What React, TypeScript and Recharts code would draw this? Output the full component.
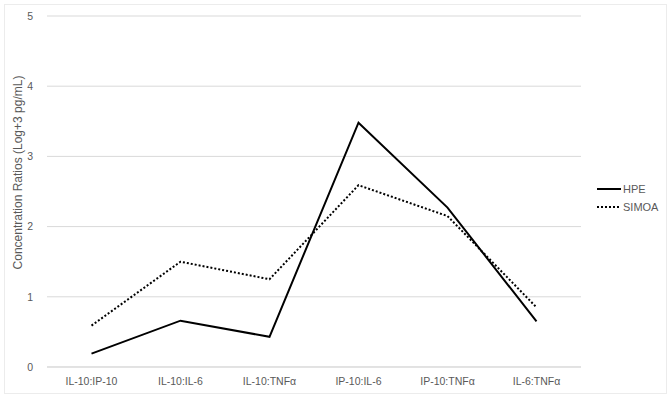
import { LineChart, Line, XAxis, YAxis, CartesianGrid } from 'recharts'

const categories = ['IL-10:IP-10', 'IL-10:IL-6', 'IL-10:TNFα', 'IP-10:IL-6', 'IP-10:TNFα', 'IL-6:TNFα']
const hpe = [0.19, 0.66, 0.43, 3.48, 2.27, 0.65]
const simoa = [0.59, 1.5, 1.25, 2.59, 2.15, 0.85]
const yTicks = [0, 1, 2, 3, 4, 5]

const data = categories.map((c, i) => ({ name: c, HPE: hpe[i], SIMOA: simoa[i] }))

const font = '"Liberation Sans", Arial, sans-serif'
const gray = '#595959'

function App() {
  return (
    <div style={{ position: 'absolute', left: 0, top: 0, width: 671, height: 397, background: '#fff', fontFamily: font }}>
      <div style={{ position: 'absolute', left: 4, top: 4, width: 661, height: 388, border: '1px solid #ececec' }} />
      <LineChart width={671} height={397} data={data} margin={{ top: 16, right: 90, bottom: 0, left: 0 }}>
        <CartesianGrid vertical={false} stroke="#d9d9d9" />
        <XAxis
          dataKey="name"
          tickLine={false}
          axisLine={{ stroke: '#d9d9d9' }}
          height={30}
          padding={{ left: 44.5, right: 44.5 }}
          tick={{ fill: gray, fontSize: 10.5, fontFamily: font }}
          tickMargin={5}
        />
        <YAxis
          width={47}
          domain={[0, 5]}
          ticks={yTicks}
          tickLine={false}
          axisLine={false}
          tick={{ fill: gray, fontSize: 10.5, fontFamily: font }}
          tickMargin={8}
          label={{
            value: 'Concentration Ratios (Log+3 pg/mL)',
            angle: -90,
            position: 'insideLeft',
            dx: 13,
            dy: -19,
            fill: gray,
            fontSize: 12,
            fontFamily: font,
            style: { textAnchor: 'middle', fill: gray },
          }}
        />
        <Line type="linear" dataKey="HPE" stroke="#000" strokeWidth={2} dot={false} isAnimationActive={false} />
        <Line type="linear" dataKey="SIMOA" stroke="#000" strokeWidth={2} strokeDasharray="2 2" dot={false} isAnimationActive={false} />
      </LineChart>
      <div style={{ position: 'absolute', left: 597, top: 180, fontSize: 11, color: gray, lineHeight: '18px' }}>
        <div style={{ display: 'flex', alignItems: 'center' }}>
          <svg width={24} height={4}><line x1={0} y1={2} x2={24} y2={2} stroke="#000" strokeWidth={2} /></svg>
          <span style={{ marginLeft: 2 }}>HPE</span>
        </div>
        <div style={{ display: 'flex', alignItems: 'center' }}>
          <svg width={24} height={4}><line x1={0} y1={2} x2={24} y2={2} stroke="#000" strokeWidth={2} strokeDasharray="2 2" /></svg>
          <span style={{ marginLeft: 2 }}>SIMOA</span>
        </div>
      </div>
    </div>
  )
}

export default App
